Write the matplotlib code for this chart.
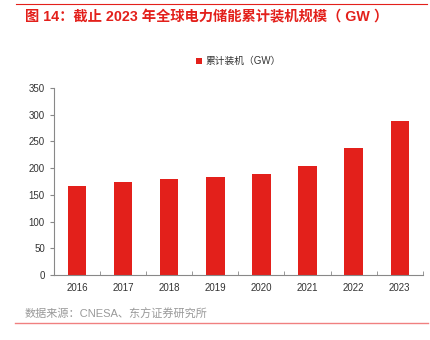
import matplotlib
matplotlib.use("Agg")
import matplotlib.pyplot as plt
from matplotlib.lines import Line2D

plt.rcParams['font.family'] = ['Liberation Sans', 'Noto Sans CJK SC', 'DejaVu Sans']

years = ['2016', '2017', '2018', '2019', '2020', '2021', '2022', '2023']
capacity_gw = [167, 174, 180, 184, 190, 205, 237, 288]

red = '#E3201B'
grey = '#888888'

fig = plt.figure(figsize=(4.31, 3.4), dpi=100)
ax = fig.add_axes([0.125, 0.191, 0.856, 0.55])

x = list(range(len(years)))
ax.bar(x, capacity_gw, width=0.4, color=red, label='累计装机（GW）')

ax.set_xlim(-0.5, len(years) - 0.5)
ax.set_ylim(0, 350)
ax.set_yticks(range(0, 351, 50))
ax.set_xticks(x)
ax.set_xticklabels(years)
ax.set_xticks([i + 0.5 for i in x], minor=True)
ax.tick_params(axis='x', which='major', length=0, labelsize=7, colors='#333333', pad=6)
ax.tick_params(axis='x', which='minor', length=3, direction='in', color=grey)
ax.tick_params(axis='y', length=3, direction='out', color=grey, labelsize=7, labelcolor='#333333')

for s in ['top', 'right']:
    ax.spines[s].set_visible(False)
ax.spines['left'].set_color(grey)
ax.spines['bottom'].set_color(grey)

leg = ax.legend(loc='lower center', bbox_to_anchor=(0.5, 1.07), frameon=False,
                fontsize=7, handlelength=0.6, handleheight=0.6, handletextpad=0.3)
for t in leg.get_texts():
    t.set_color('#333333')

# header and footer
fig.add_artist(Line2D([16 / 431, 427 / 431], [1 - 4 / 340, 1 - 4 / 340], color=red, lw=0.8))
fig.text(25 / 431, 1 - 17 / 340, '图 14：截止 2023 年全球电力储能累计装机规模（ GW ）',
         color=red, fontsize=10.3, fontweight='bold', va='center', ha='left')
fig.text(25 / 431, 1 - 314 / 340, '数据来源：CNESA、东方证券研究所',
         color='#999999', fontsize=8, va='center', ha='left')
fig.add_artist(Line2D([15 / 431, 428 / 431], [1 - 323 / 340, 1 - 323 / 340], color='#F08080', lw=1))

fig.savefig('out.png', dpi=100)
